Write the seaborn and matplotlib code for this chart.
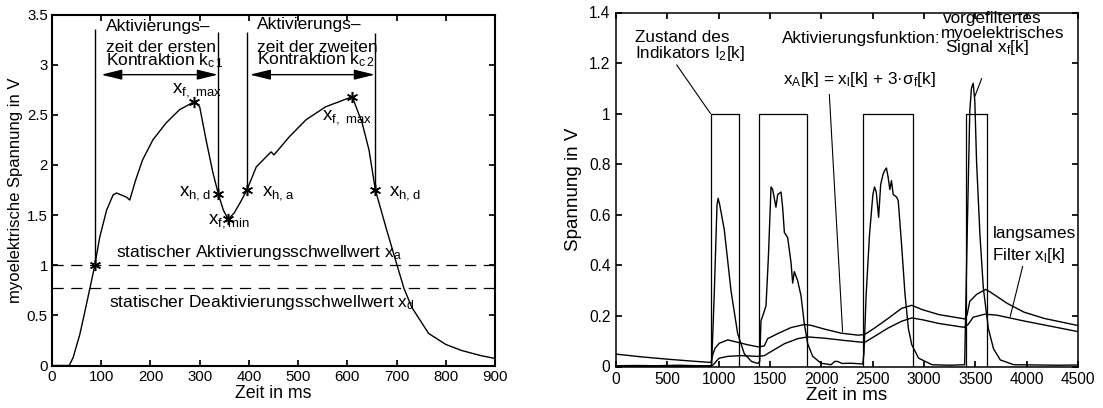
import numpy as np
import pandas as pd
import matplotlib
matplotlib.use("Agg")
import matplotlib.pyplot as plt
import seaborn as sns

# ---------------- data: left panel ----------------
t_emg = [0, 35, 43, 50, 56, 66, 77, 87, 97, 111, 124, 131, 141, 151, 158, 170, 184, 205,
         232, 259, 289, 300, 313, 327, 338, 348, 358, 370, 383, 396, 415, 435, 445, 451,
         482, 516, 556, 610, 630, 644, 657, 680, 701, 715, 731, 765, 800, 832, 870, 900]
v_emg = [0, 0, 0.08, 0.2, 0.3, 0.52, 0.77, 1.0, 1.28, 1.55, 1.70, 1.72, 1.70, 1.68, 1.65,
         1.85, 2.05, 2.25, 2.42, 2.55, 2.63, 2.58, 2.25, 1.92, 1.71, 1.55, 1.46, 1.52, 1.63,
         1.75, 1.98, 2.08, 2.13, 2.10, 2.28, 2.45, 2.58, 2.68, 2.42, 2.15, 1.75, 1.35, 1.0,
         0.77, 0.58, 0.32, 0.21, 0.15, 0.10, 0.07]
event_t = [87, 289, 338, 358, 396, 610, 657]
event_v = [1.0, 2.63, 1.71, 1.46, 1.75, 2.68, 1.75]
vline_t = [87, 338, 396, 657]
vline_v = [1.0, 1.71, 1.75, 1.75]
vline_top = [3.36, 3.33, 3.33, 3.32]
thr_act = 1.0
thr_deact = 0.77

# ---------------- data: right panel ----------------
xf_t = [0, 200, 400, 600, 800, 925, 932, 958, 984, 995, 1010, 1055, 1120, 1185, 1250, 1320,
        1380, 1400, 1412, 1429, 1461, 1484, 1510, 1526, 1558, 1575, 1607, 1623, 1640, 1672,
        1705, 1721, 1737, 1769, 1802, 1834, 1867, 1916, 1997, 2094, 2130, 2159, 2200, 2289,
        2403, 2415, 2436, 2469, 2502, 2518, 2535, 2558, 2578, 2601, 2617, 2634, 2650, 2667,
        2683, 2700, 2733, 2749, 2782, 2815, 2848, 2881, 2947, 3079, 3250, 3396, 3422, 3446,
        3462, 3479, 3495, 3512, 3545, 3578, 3627, 3677, 3743, 3875, 4100, 4300, 4500]
xf_v = [0.003, 0.004, 0.003, 0.005, 0.003, 0.003, 0.01, 0.30, 0.64, 0.665, 0.64, 0.54, 0.30,
        0.13, 0.05, 0.02, 0.012, 0.02, 0.18, 0.20, 0.24, 0.43, 0.71, 0.70, 0.63, 0.68, 0.69,
        0.63, 0.53, 0.51, 0.41, 0.33, 0.375, 0.34, 0.28, 0.17, 0.09, 0.04, 0.013, 0.007,
        0.02, 0.02, 0.012, 0.013, 0.01, 0.05, 0.28, 0.52, 0.68, 0.71, 0.69, 0.59, 0.72, 0.76,
        0.775, 0.785, 0.75, 0.70, 0.735, 0.68, 0.67, 0.656, 0.48, 0.285, 0.15, 0.086, 0.033,
        0.007, 0.005, 0.007, 0.55, 1.01, 1.10, 1.12, 1.05, 0.81, 0.52, 0.31, 0.15, 0.07,
        0.026, 0.007, 0.006, 0.005, 0.006]
xa_t = [0, 250, 500, 750, 925, 942, 964, 1006, 1088, 1153, 1282, 1380, 1412, 1445, 1477,
        1575, 1705, 1834, 1899, 2029, 2192, 2354, 2420, 2518, 2650, 2782, 2880, 2983, 3148,
        3400, 3420, 3446, 3512, 3600, 3644, 3809, 3974, 4172, 4500]
xa_v = [0.049, 0.038, 0.029, 0.021, 0.016, 0.046, 0.072, 0.092, 0.105, 0.099, 0.086, 0.078,
        0.079, 0.082, 0.11, 0.13, 0.154, 0.166, 0.163, 0.148, 0.132, 0.124, 0.126, 0.152,
        0.19, 0.23, 0.242, 0.225, 0.205, 0.188, 0.205, 0.258, 0.285, 0.305, 0.295, 0.25,
        0.215, 0.19, 0.162]
xl_t = [0, 925, 950, 974, 1006, 1088, 1218, 1380, 1445, 1510, 1640, 1769, 1867, 2029, 2224,
        2420, 2518, 2650, 2782, 2880, 2983, 3148, 3390, 3429, 3479, 3594, 3710, 3974, 4500]
xl_v = [0.0, 0.0, 0.008, 0.02, 0.033, 0.04, 0.043, 0.04, 0.043, 0.059, 0.09, 0.11, 0.117,
        0.112, 0.103, 0.095, 0.119, 0.152, 0.179, 0.192, 0.185, 0.17, 0.155, 0.166, 0.195,
        0.207, 0.203, 0.18, 0.138]
ind_on = [925, 1395, 2410, 3405]
ind_off = [1200, 1860, 2890, 3617]

left_xticks = list(range(0, 901, 100))
left_yticks = [0, 0.5, 1, 1.5, 2, 2.5, 3, 3.5]
right_xticks = list(range(0, 4501, 500))
right_yticks = [0, 0.2, 0.4, 0.6, 0.8, 1, 1.2, 1.4]

# ---------------- style ----------------
sns.set_theme(style="ticks")
plt.rcParams.update({
    "font.family": ["Liberation Sans", "DejaVu Sans"],
    "mathtext.default": "regular",
    "xtick.direction": "in",
    "ytick.direction": "in",
    "xtick.major.size": 4,
    "ytick.major.size": 4,
    "axes.edgecolor": "black",
    "xtick.color": "black",
    "ytick.color": "black",
    "text.color": "black",
    "axes.labelcolor": "black",
})

fig = plt.figure(figsize=(11.03, 4.08), dpi=100)
ax1 = fig.add_axes([52 / 1103, 42.5 / 408, 443 / 1103, 351 / 408])
ax2 = fig.add_axes([616 / 1103, 41.5 / 408, 462 / 1103, 354 / 408])

FS1 = 12.5
FS2 = 12.3

# ---------------- left panel ----------------
df_emg = pd.DataFrame({"t": t_emg, "v": v_emg})
sns.lineplot(data=df_emg, x="t", y="v", ax=ax1, color="black", lw=1.0,
             estimator=None, sort=False)
ax1.axhline(thr_act, color="black", lw=0.9, dashes=(9, 6))
ax1.axhline(thr_deact, color="black", lw=0.9, dashes=(9, 6))
ax1.vlines(vline_t, vline_v, vline_top, color="black", lw=1.0)
ax1.plot(event_t, event_v, ls="none", marker=(6, 2, 0), ms=8, mec="black", mew=1.1)

arrow_kw = dict(arrowstyle="<|-|>,head_length=0.9,head_width=0.22", color="black",
                lw=1.0, mutation_scale=14, shrinkA=0, shrinkB=0)
ax1.annotate("", xy=(337, 2.9), xytext=(100, 2.9), arrowprops=arrow_kw)
ax1.annotate("", xy=(656, 2.9), xytext=(402, 2.9), arrowprops=arrow_kw)

ax1.text(109, 3.34, "Aktivierungs–", fontsize=FS1, va="baseline")
ax1.text(109, 3.13, "zeit der ersten", fontsize=FS1, va="baseline")
ax1.text(109, 2.99, r"Kontraktion k$_{c\,1}$", fontsize=FS1, va="baseline")
ax1.text(417, 3.36, "Aktivierungs–", fontsize=FS1, va="baseline")
ax1.text(417, 3.13, "zeit der zweiten", fontsize=FS1, va="baseline")
ax1.text(417, 3.00, r"Kontraktion k$_{c\,2}$", fontsize=FS1, va="baseline")

XS = 13.5
ax1.text(243, 2.72, r"x$_{f,\ max}$", fontsize=XS, va="baseline")
ax1.text(549, 2.45, r"x$_{f,\ max}$", fontsize=XS, va="baseline")
ax1.text(259, 1.70, r"x$_{h,d}$", fontsize=XS, va="baseline")
ax1.text(427, 1.70, r"x$_{h,a}$", fontsize=XS, va="baseline")
ax1.text(684, 1.70, r"x$_{h,d}$", fontsize=XS, va="baseline")
ax1.text(316, 1.42, r"x$_{f,min}$", fontsize=XS, va="baseline")
ax1.text(130, 1.08, r"statischer Aktivierungsschwellwert x$_a$", fontsize=FS1, va="baseline")
ax1.text(116, 0.58, r"statischer Deaktivierungsschwellwert x$_d$", fontsize=FS1, va="baseline")

ax1.set_xlim(0, 900)
ax1.set_ylim(0, 3.5)
ax1.set_xticks(left_xticks)
ax1.set_yticks(left_yticks)
ax1.set_yticklabels(["0", "0.5", "1", "1.5", "2", "2.5", "3", "3.5"])
ax1.set_xlabel("Zeit in ms", fontsize=12.8, labelpad=1)
ax1.set_ylabel("myoelektrische Spannung in V", fontsize=12.0, labelpad=3)
ax1.tick_params(top=True, right=True, pad=3, labelsize=10.8)
for s in ax1.spines.values():
    s.set_visible(True)
    s.set_linewidth(1.5)

# ---------------- right panel ----------------
ind_t = [0]
ind_v = [0]
for a, b in zip(ind_on, ind_off):
    ind_t += [a, a, b, b]
    ind_v += [0, 1, 1, 0]
ind_t.append(4500)
ind_v.append(0)

for tt, vv, lw in [(ind_t, ind_v, 0.9), (xl_t, xl_v, 1.0), (xa_t, xa_v, 1.0), (xf_t, xf_v, 1.0)]:
    d = pd.DataFrame({"t": tt, "v": vv})
    sns.lineplot(data=d, x="t", y="v", ax=ax2, color="black", lw=lw,
                 estimator=None, sort=False)

lead = dict(arrowstyle="-", color="black", lw=0.8, shrinkA=0, shrinkB=0)
ax2.text(181, 1.283, "Zustand des", fontsize=FS2, va="baseline")
ax2.text(181, 1.22, r"Indikators I$_2$[k]", fontsize=FS2, va="baseline")
ax2.annotate("", xy=(921, 1.0), xytext=(591, 1.193), arrowprops=lead)

ax2.text(1616, 1.281, "Aktivierungsfunktion:", fontsize=FS2, va="baseline")
ax2.text(1626, 1.119, r"x$_A$[k] = x$_l$[k] + 3·σ$_f$[k]", fontsize=FS2, va="baseline")
ax2.annotate("", xy=(2207, 0.138), xytext=(2078, 1.076), arrowprops=lead)

ax2.text(3185, 1.36, "vorgefiltertes", fontsize=FS2, va="baseline")
ax2.text(3165, 1.30, "myoelektrisches", fontsize=FS2, va="baseline")
ax2.text(3200, 1.243, r"Signal x$_f$[k]", fontsize=FS2, va="baseline")
ax2.annotate("", xy=(3492, 1.065), xytext=(3562, 1.139), arrowprops=lead)

ax2.text(3666, 0.508, "langsames", fontsize=FS2, va="baseline")
ax2.text(3666, 0.422, r"Filter x$_l$[k]", fontsize=FS2, va="baseline")
ax2.annotate("", xy=(3840, 0.198), xytext=(3961, 0.396), arrowprops=lead)

ax2.set_xlim(0, 4500)
ax2.set_ylim(0, 1.4)
ax2.set_xticks(right_xticks)
ax2.set_yticks(right_yticks)
ax2.set_yticklabels(["0", "0.2", "0.4", "0.6", "0.8", "1", "1.2", "1.4"])
ax2.set_xlabel("Zeit in ms", fontsize=13.5, labelpad=0)
ax2.set_ylabel("Spannung in V", fontsize=13.5, labelpad=5)
ax2.tick_params(top=True, right=True, pad=4, labelsize=11.2)
for s in ax2.spines.values():
    s.set_visible(True)
    s.set_linewidth(1.1)

fig.savefig("out.png", dpi=100)
